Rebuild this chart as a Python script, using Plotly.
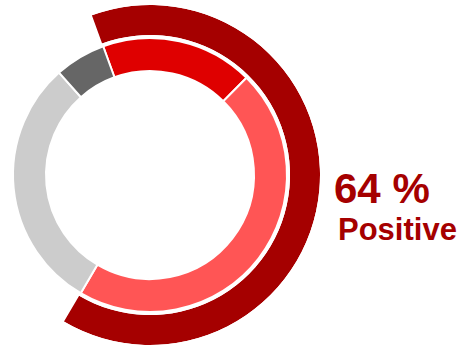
import plotly.graph_objects as go

# Sentiment breakdown (percent)
categories = ["Very positive", "Positive", "Neutral", "Negative"]
shares = [18, 46, 30, 6]
colors = ["#df0000", "#ff5555", "#cccccc", "#666666"]

positive_total = 64
headline = "64 %"
headline_sub = "Positive"

W, H = 458, 348
cx, cy = 150, 175          # ring centre (px)
r_outer = 170              # outer arc outer radius
r_outer_in = 140           # outer arc inner radius
r_ring = 137               # inner ring outer radius
r_hole = 104               # inner ring inner radius
start = -20                # compass angle of first slice

fig = go.Figure()

# inner ring
fig.add_trace(go.Pie(
    labels=categories, values=shares, sort=False,
    direction="clockwise", rotation=start,
    hole=r_hole / r_ring,
    marker=dict(colors=colors, line=dict(color="white", width=2)),
    textinfo="none", hoverinfo="label+percent", showlegend=False,
    domain=dict(x=[(cx - r_ring) / W, (cx + r_ring) / W],
                y=[1 - (cy + r_ring) / H, 1 - (cy - r_ring) / H]),
))

# outer arc showing the positive share
span = positive_total / 100 * 360
fig.add_trace(go.Barpolar(
    r=[1], base=[0], theta=[start + span / 2], width=[span],
    marker=dict(color="#a50000", line=dict(width=0)),
    showlegend=False, hoverinfo="skip", subplot="polar",
))

# sector (math degrees) enclosing the arc; its bbox sets the domain
sector = [-121, 111]
bx0 = -0.515
fig.update_layout(
    polar=dict(
        domain=dict(x=[(cx + bx0 * r_outer) / W, (cx + r_outer) / W],
                    y=[1 - (cy + r_outer) / H, 1 - (cy - r_outer) / H]),
        sector=sector,
        hole=r_outer_in / r_outer,
        bgcolor="rgba(0,0,0,0)",
        radialaxis=dict(visible=False, range=[0, 1]),
        angularaxis=dict(visible=False, rotation=90, direction="clockwise"),
    ),
    width=W, height=H,
    margin=dict(l=0, r=0, t=0, b=0),
    paper_bgcolor="white", plot_bgcolor="white",
    annotations=[
        dict(text=headline, x=332 / W, y=1 - 188 / H, xref="paper", yref="paper",
             xanchor="left", yanchor="middle", showarrow=False,
             font=dict(family="Liberation Sans", size=42, color="#a50000", weight="bold")),
        dict(text=headline_sub, x=336 / W, y=1 - 229 / H, xref="paper", yref="paper",
             xanchor="left", yanchor="middle", showarrow=False,
             font=dict(family="Liberation Sans", size=31, color="#a50000", weight="bold")),
    ],
)

fig.write_html("out.html")
